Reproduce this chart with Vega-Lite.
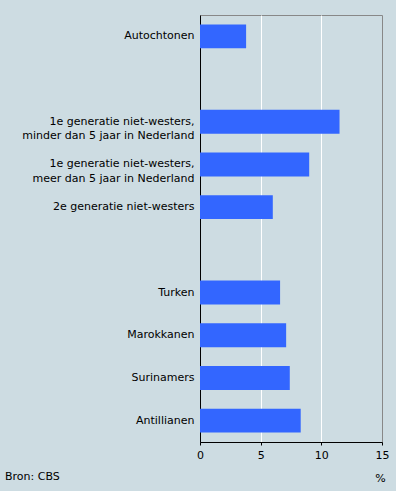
{
  "$schema": "https://vega.github.io/schema/vega-lite/v6.json",
  "autosize": "none",
  "padding": {"left": 200, "top": 15, "right": 14, "bottom": 49},
  "width": 182,
  "height": 427,
  "background": "#cddce2",
  "title": {
    "text": "Bron: CBS",
    "orient": "bottom",
    "anchor": "start",
    "frame": "group",
    "dx": -195,
    "offset": -12,
    "baseline": "top",
    "font": "DejaVu Sans",
    "fontSize": 11,
    "fontWeight": "normal",
    "color": "black"
  },
  "config": {
    "view": {"stroke": "#888888", "strokeWidth": 1},
    "font": "DejaVu Sans"
  },
  "data": {
    "values": [
      {"groep": "Autochtonen", "waarde": 3.8},
      {"groep": "1e generatie niet-westers,|minder dan 5 jaar in Nederland", "waarde": 11.5},
      {"groep": "1e generatie niet-westers,|meer dan 5 jaar in Nederland", "waarde": 9.0},
      {"groep": "2e generatie niet-westers", "waarde": 6.0},
      {"groep": "Turken", "waarde": 6.6},
      {"groep": "Marokkanen", "waarde": 7.1},
      {"groep": "Surinamers", "waarde": 7.4},
      {"groep": "Antillianen", "waarde": 8.3}
    ]
  },
  "mark": {"type": "bar", "color": "#3366ff"},
  "encoding": {
    "y": {
      "field": "groep",
      "type": "nominal",
      "scale": {
        "domain": [
          "Autochtonen",
          "gap1",
          "1e generatie niet-westers,|minder dan 5 jaar in Nederland",
          "1e generatie niet-westers,|meer dan 5 jaar in Nederland",
          "2e generatie niet-westers",
          "gap2",
          "Turken",
          "Marokkanen",
          "Surinamers",
          "Antillianen"
        ],
        "paddingInner": 0.44,
        "paddingOuter": 0.22
      },
      "axis": {
        "title": null,
        "labelExpr": "indexof(datum.label, 'gap') == 0 ? '' : split(datum.label, '|')",
        "labelFont": "DejaVu Sans",
        "labelFontSize": 11,
        "labelColor": "black",
        "labelLineHeight": 14.5,
        "labelPadding": 6,
        "labelLimit": 300,
        "ticks": false,
        "domainColor": "black",
        "domainWidth": 1,
        "grid": false
      }
    },
    "x": {
      "field": "waarde",
      "type": "quantitative",
      "scale": {"domain": [0, 15], "nice": false},
      "axis": {
        "values": [0, 5, 10, 15],
        "title": "%",
        "titleFont": "DejaVu Sans",
        "titleFontSize": 11,
        "titleFontWeight": "normal",
        "titleColor": "black",
        "titleAnchor": "end",
        "titleAlign": "center",
        "titleBaseline": "middle",
        "titleX": 180,
        "titleY": 36,
        "labelFont": "DejaVu Sans",
        "labelFontSize": 11,
        "labelColor": "black",
        "labelFlush": false,
        "labelPadding": 4,
        "tickSize": 3,
        "tickColor": "black",
        "domainColor": "black",
        "grid": true,
        "gridColor": {"condition": {"test": "datum.value === 15 || datum.value === 0", "value": "transparent"}, "value": "white"},
        "gridOpacity": 1,
        "gridWidth": 1
      }
    }
  }
}
